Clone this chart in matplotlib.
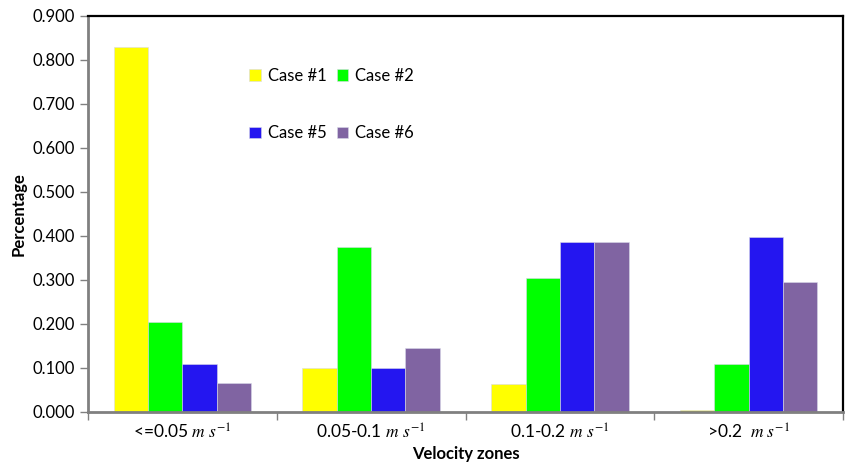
import numpy as np
import matplotlib.pyplot as plt

zones = [r'<=0.05 $m\ s^{-1}$', r'0.05-0.1 $m\ s^{-1}$',
         r'0.1-0.2 $m\ s^{-1}$', r'>0.2  $m\ s^{-1}$']
cases = ['Case #1', 'Case #2', 'Case #5', 'Case #6']
case1 = [0.830, 0.100, 0.064, 0.005]
case2 = [0.205, 0.375, 0.305, 0.109]
case5 = [0.109, 0.100, 0.386, 0.398]
case6 = [0.065, 0.145, 0.386, 0.296]
colors = ['#FFFF00', '#00FF00', '#2416F0', '#8064A2']

plt.rcParams['font.family'] = ['Lato', 'DejaVu Sans']
plt.rcParams['mathtext.fontset'] = 'stix'

fig = plt.figure(figsize=(8.46, 4.65), dpi=100)
ax = fig.add_axes([0.104, 0.114, 0.8925, 0.8516])

x = np.arange(len(zones))
w = 1 / 5.5
bars = []
for i, vals in enumerate([case1, case2, case5, case6]):
    b = ax.bar(x + (i - 1.5) * w, vals, w, color=colors[i],
               edgecolor='#d8d8e8', linewidth=0.4, label=cases[i])
    bars.append(b)

ax.set_xlim(-0.5, 3.5)
ax.set_ylim(0, 0.9)
ax.set_yticks(np.arange(0, 0.91, 0.1))
ax.set_yticklabels(['%.3f' % v for v in np.arange(0, 0.91, 0.1)], fontsize=12)
ax.set_xticks(x)
ax.set_xticklabels(zones, fontsize=12.5)
ax.tick_params(axis='x', which='major', length=0, pad=8)
ax.set_xticks(np.arange(-0.5, 4, 1), minor=True)
ax.tick_params(axis='x', which='minor', length=6, color='#808080', width=1)
ax.tick_params(axis='y', length=6, color='#808080', width=1)

for s in ['top', 'right']:
    ax.spines[s].set_color('black')
    ax.spines[s].set_linewidth(1.6)
for s in ['left', 'bottom']:
    ax.spines[s].set_color('#808080')
    ax.spines[s].set_linewidth(2)

ax.set_xlabel('Velocity zones', fontsize=12, fontweight='bold', labelpad=3)
ax.set_ylabel('Percentage', fontsize=12, fontweight='bold', labelpad=4)

# legend: rows are (#1, #2) and (#5, #6)
order = [0, 2, 1, 3]
leg = ax.legend([bars[i] for i in order], [cases[i] for i in order],
                ncol=2, loc='upper left', bbox_to_anchor=(0.194, 0.907),
                frameon=False, fontsize=12, handlelength=0.7,
                handleheight=0.7, handletextpad=0.4, columnspacing=0.6,
                labelspacing=2.5)

fig.savefig('out.png', dpi=100)
